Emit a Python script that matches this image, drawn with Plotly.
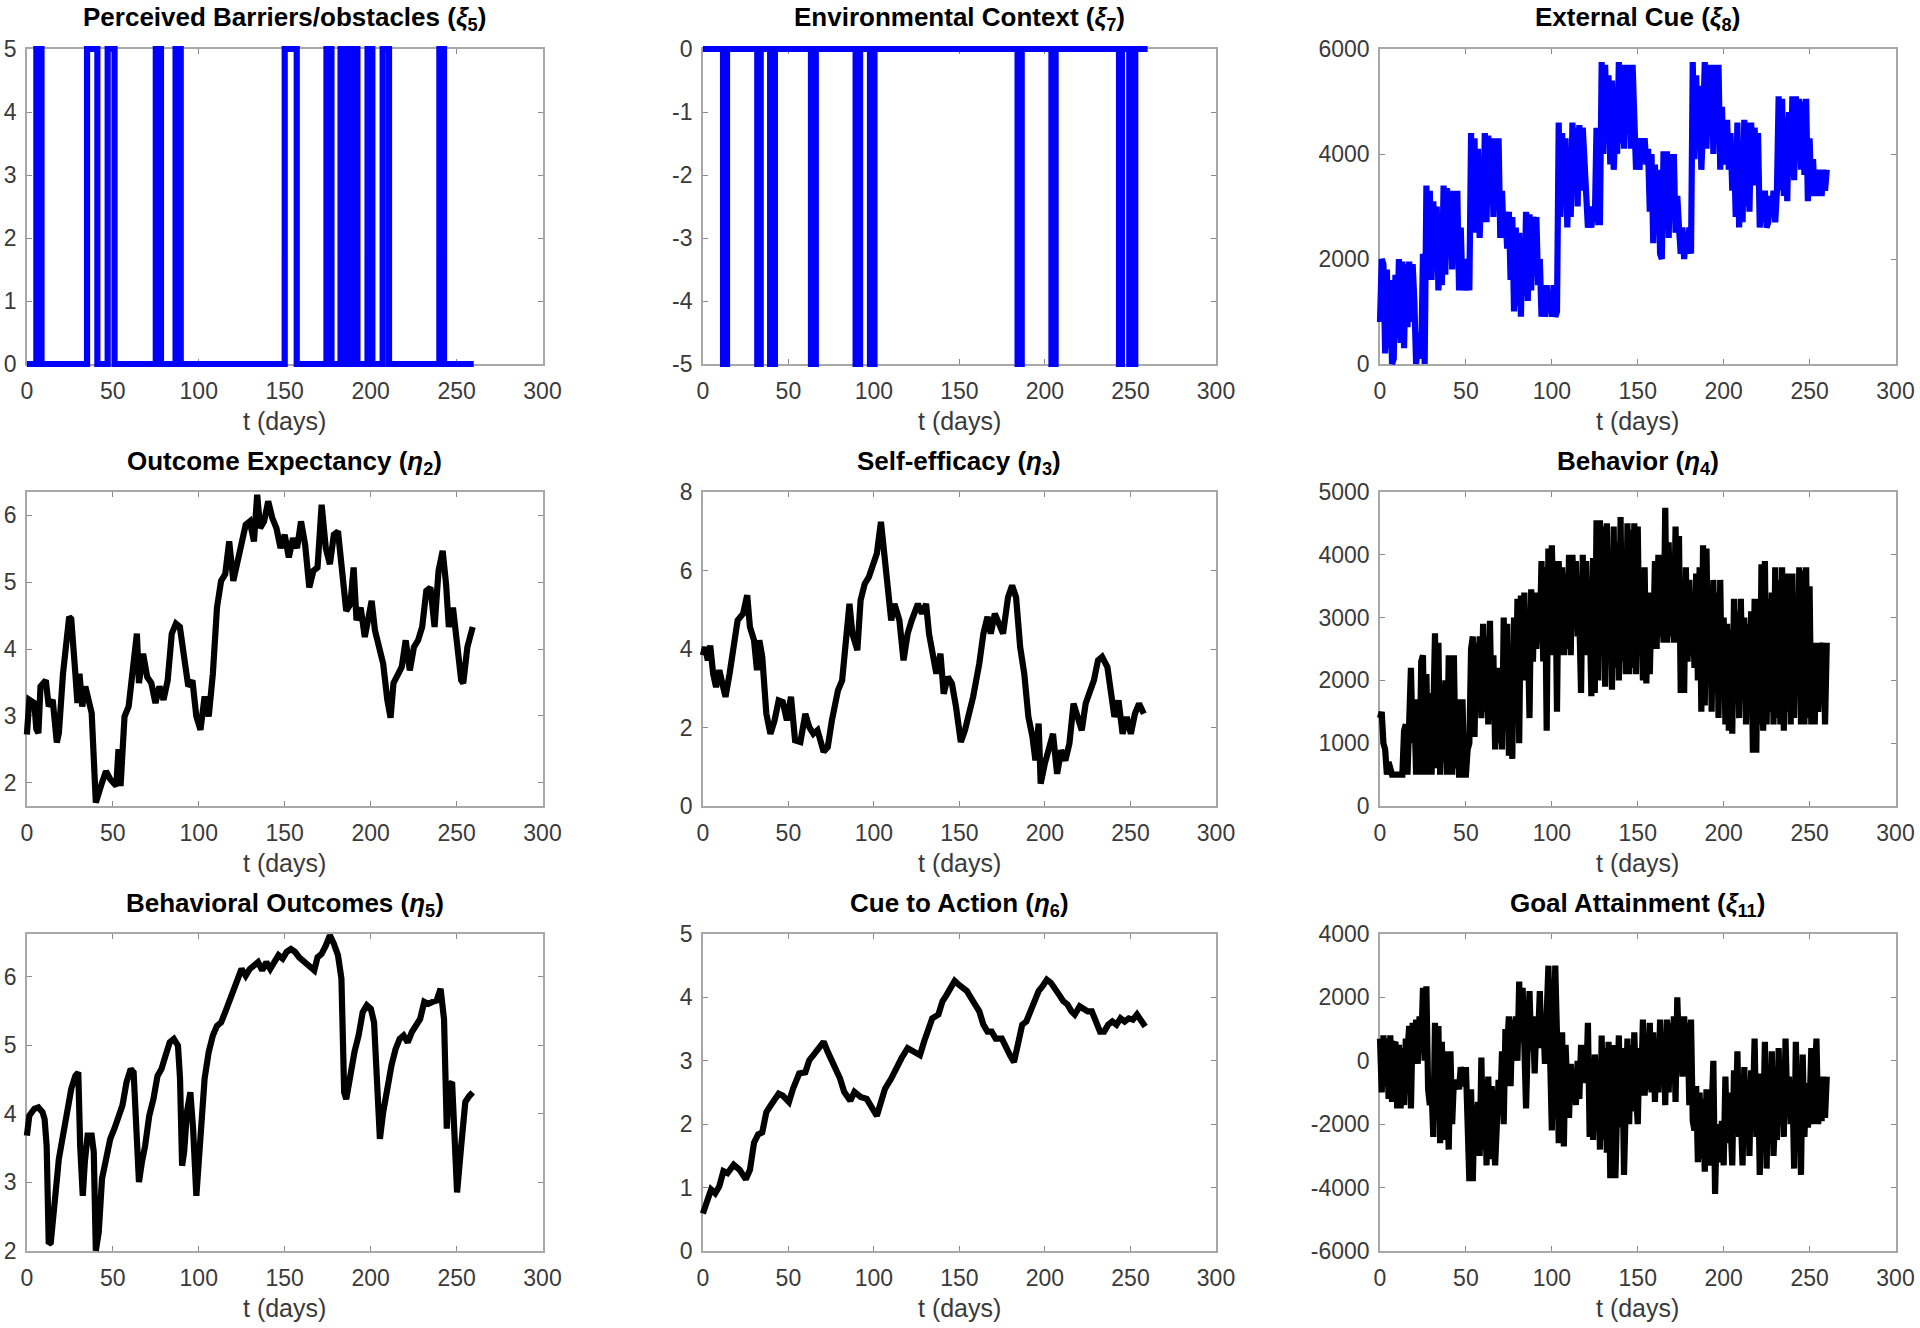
import plotly.graph_objects as go

# ---------------- data ----------------
days = list(range(261))

# Perceived Barriers/obstacles (xi5): intervals (start day, end day) where value = 5, else 0
xi5_level = 5
xi5_starts = [5.5, 35.0, 47.0, 75.0, 86.5, 150.0, 174.3, 182.5, 184.8, 187.2, 189.8, 198.2, 207.0, 240.0]
xi5_ends = [8.5, 41.0, 51.0, 78.0, 89.5, 157.0, 177.2, 184.0, 186.5, 189.0, 192.3, 201.0, 210.7, 242.7]

# Environmental Context (xi7): intervals where value = -5, else 0
xi7_level = -5
xi7_starts = [11.8, 31.8, 39.3, 63.2, 89.3, 97.7, 184.0, 203.8, 243.3, 249.3, 251.5]
xi7_ends = [14.1, 33.8, 42.1, 66.0, 91.9, 100.3, 186.4, 206.2, 245.0, 250.5, 252.8]

# External Cue (xi8), daily
xi8 = [800, 2000, 1900, 200, 1800, 300, 1600, 0, 100, 1700,
       500, 2000, 400, 1950, 300, 1900, 700, 1950, 800, 1900,
       1200, 0, 300, 600, 100, 2100, 0, 3400, 1600, 3300,
       1600, 3100, 2000, 3000, 1400, 2300, 1500, 3400, 1700, 3350,
       2100, 3300, 1800, 3300, 2100, 3300, 1400, 2600, 1400, 1900,
       1400, 2000, 1400, 4400, 2600, 4300, 2500, 4100, 2400, 3500,
       2700, 4400, 2700, 4350, 3200, 4300, 2800, 4300, 3400, 4300,
       2400, 3300, 2400, 2900, 2200, 2900, 1600, 2800, 1000, 2600,
       1100, 2500, 900, 2400, 1300, 2900, 1200, 2850, 1400, 2800,
       2200, 2800, 1500, 2000, 900, 1400, 900, 1500, 1000, 1300,
       900, 1500, 900, 1000, 4600, 2800, 4400, 3000, 4300, 2600,
       3900, 2800, 4600, 3500, 4500, 3000, 4550, 3300, 4500, 3600,
       3100, 2600, 2800, 2600, 3000, 2700, 4500, 2700, 2700, 5750,
       4000, 5700, 4600, 5500, 3800, 5400, 3700, 4500, 4000, 5750,
       4200, 5700, 4100, 5700, 4400, 5700, 4100, 5700, 4700, 3700,
       4300, 3700, 4300, 3900, 4300, 3800, 4100, 2900, 4000, 2300,
       3800, 2600, 3700, 2100, 2000, 4050, 2600, 4050, 2400, 4000,
       2800, 4000, 2500, 3200, 2600, 2100, 2600, 2000, 2500, 2100,
       2600, 2100, 5750, 3900, 5500, 4200, 5300, 3700, 4500, 5750,
       4100, 5700, 4500, 5700, 4000, 5700, 4400, 5700, 3700, 4900,
       3800, 4300, 4650, 3700, 4400, 3300, 4200, 2800, 4600, 2600,
       3800, 2700, 4650, 3000, 4600, 2900, 4600, 3400, 4500, 3800,
       4400, 2600, 3300, 2700, 3300, 2600, 2700, 3200, 2800, 3300,
       2700, 3300, 5100, 3300, 5050, 3200, 4700, 3100, 4800, 3600,
       5100, 3500, 5100, 4000, 5050, 3700, 5000, 3600, 5050, 3100,
       4300, 3200, 3900, 3200, 3700, 3200, 3700, 3200, 3700, 3300, 3700]

# Outcome Expectancy (eta2)
eta2_t = [0, 1.4, 4.3, 5.5, 6.7, 7.9, 11, 12.7, 15, 17.4, 18.6, 21, 24.6, 25.8, 28.2, 29.4, 30.6,
          32.2, 34, 35.8, 37.7, 40.1, 41.3, 43.7, 46, 48.5, 52, 53.3, 54.5, 56.8, 59.2, 61.6, 64,
          65.2, 67.6, 70, 72.4, 74.8, 77.1, 79.5, 81.9, 84.3, 86.7, 89, 91.5, 93.9, 96.3, 98.6,
          101, 103.4, 105.8, 108.2, 110.6, 113, 115.4, 117.7, 120.1, 122.5, 124.9, 127.3, 129.7,
          132.1, 134, 135.7, 138, 140.4, 142.8, 145.2, 147.6, 150, 152.4, 154.8, 157.2, 159.5,
          161.9, 164.3, 166.7, 169.1, 171.5, 173.9, 176.3, 178.6, 181, 183.4, 185.8, 188.2, 190.1,
          191.8, 194.2, 196.6, 198.9, 200.6, 202.5, 204.9, 207.3, 209.7, 211.6, 213.3, 215.7,
          218.1, 220.4, 222.8, 225.2, 227.6, 230, 232.4, 234.8, 237.2, 239.5, 241.9, 243.9,
          245.5, 247.9, 250.3, 252.7, 253.9, 256.3, 259.4]
eta2 = [2.72, 3.24, 3.19, 2.8, 2.74, 3.44, 3.53, 3.14, 3.24, 2.6, 2.74, 3.63, 4.48, 4.45, 3.63, 3.19, 3.63,
        3.14, 3.44, 3.24, 3.04, 1.70, 1.78, 2.0, 2.17, 2.05, 1.95, 2.50, 1.95, 2.99, 3.14, 3.68, 4.23,
        3.49, 3.93, 3.58, 3.49, 3.19, 3.44, 3.24, 3.53, 4.23, 4.38, 4.33, 3.88, 3.44, 3.53, 2.99,
        2.79, 3.29, 2.99, 3.63, 4.62, 5.02, 5.12, 5.61, 5.02, 5.32, 5.61, 5.86, 5.91,
        5.61, 6.31, 5.81, 5.91, 6.21, 5.96, 5.81, 5.51, 5.71, 5.37, 5.66, 5.51, 5.91,
        5.56, 4.92, 5.17, 5.22, 6.16, 5.51, 5.27, 5.71, 5.76, 5.12, 4.57, 4.67, 5.22,
        4.43, 4.62, 4.18, 4.52, 4.72, 4.28, 4.03, 3.78, 3.24, 2.97, 3.49, 3.63,
        3.73, 4.13, 3.68, 4.03, 4.13, 4.33, 4.87, 4.92, 4.33, 5.17, 5.47, 4.97,
        4.33, 4.62, 4.13, 3.53, 3.49, 4.03, 4.33]

# Self-efficacy (eta3)
eta3_t = [0, 1.2, 2.9, 4.3, 6, 7.7, 9.6, 12, 13.2, 15.6, 18, 20.3, 23.5, 25.9, 27.5, 29.9, 31.6, 33,
          34.7, 37.1, 39.5, 41.9, 44.3, 46.7, 49.1, 51.5, 53.9, 57, 59.9, 62.2, 64.6, 67, 70.6, 73,
          75.4, 79, 81.4, 83.8, 85.7, 87.4, 90.3, 92.2, 94.6, 97, 99.4, 101.7, 104.1, 106.5, 108.9,
          110.1, 112, 114.9, 117.3, 119.7, 122.1, 125.7, 128.1, 130.5, 132.2, 134.1, 136.5, 138.9,
          140.8, 143.2, 145.6, 148, 150.8, 153.2, 155.6, 158, 161.6, 164, 166.4, 168.3, 170.7,
          173.6, 175.5, 178.4, 180.8, 183.1, 185.5, 187.9, 190.3, 192.7, 194.4, 196.3, 197.5,
          199.9, 202.3, 204.7, 207.1, 209.5, 211.9, 214.3, 216.7, 219.1, 221.5, 223.8, 226.2,
          228.6, 231, 233.4, 236.5, 238.9, 240.6, 243, 245.4, 247.8, 250.2, 252.6, 255, 257.8]
eta3 = [3.84, 4.05, 3.71, 4.09, 3.37, 3.03, 3.46, 2.86, 2.78, 3.37, 4.22, 4.73, 4.90, 5.37, 4.56, 4.22, 3.46, 4.22,
        3.80, 2.35, 1.84, 2.18, 2.69, 2.65, 2.18, 2.78, 1.67, 1.63, 2.35, 2.01, 1.84, 1.93, 1.38, 1.50,
        2.18, 2.95, 3.20, 4.48, 5.15, 4.39, 3.97, 5.24, 5.66, 5.83, 6.17, 6.43, 7.24, 6.34, 5.32,
        4.73, 5.15, 4.73, 3.71, 4.39, 4.73, 5.15, 4.90, 5.15, 4.39, 3.88, 3.37, 3.88,
        2.86, 3.29, 3.12, 2.52, 1.63, 1.93, 2.35, 2.78, 3.63, 4.39, 4.82, 4.39, 4.90,
        4.56, 4.39, 5.32, 5.62, 5.32, 4.05, 3.37, 2.27, 1.76, 1.16, 2.10, 0.57,
        1.08, 1.50, 1.84, 0.82, 1.42, 1.16, 1.59, 2.61, 2.27, 1.93, 2.61, 2.86,
        3.20, 3.71, 3.80, 3.54, 2.86, 2.27, 2.69, 1.84, 2.27, 1.84, 2.35, 2.61, 2.35]

# Behavior (eta4), daily
eta4 = [1400, 1500, 1000, 900, 500, 700, 600, 500, 500, 500,
        500, 500, 500, 500, 1200, 1300, 500, 1800, 2200, 1000,
        1600, 500, 1700, 500, 2300, 2400, 500, 2100, 500, 1800,
        500, 1400, 2750, 600, 2600, 500, 1700, 700, 2000, 500,
        2400, 1700, 500, 2400, 600, 1700, 500, 500, 1700, 500,
        500, 900, 1000, 2500, 2700, 1100, 2600, 1700, 2700, 1400,
        2900, 1500, 2700, 1300, 2950, 1400, 2400, 900, 2200, 1000,
        2200, 900, 3000, 1200, 2900, 800, 2300, 750, 3000, 1600,
        3300, 1000, 3350, 2000, 3400, 2200, 2800, 1400, 3450, 2300,
        3400, 2500, 3200, 2700, 3900, 2300, 3800, 1200, 4100, 2400,
        4150, 3000, 3900, 1500, 3900, 2400, 3800, 2400, 3700, 2500,
        4000, 2400, 4000, 3200, 3900, 2700, 3000, 1800, 4000, 2400,
        3900, 2600, 3100, 1750, 3950, 1800, 4550, 2000, 4550, 2700,
        4450, 1900, 4500, 2600, 3800, 1850, 4450, 2200, 4200, 2000,
        4600, 2300, 4000, 2100, 4500, 2100, 4400, 2200, 4500, 2100,
        4450, 2400, 3700, 2000, 3800, 1950, 3400, 2100, 3200, 2600,
        3900, 2500, 4000, 2700, 3300, 2600, 4750, 2600, 4200, 2700,
        3600, 2600, 4450, 2800, 4300, 1800, 3500, 1800, 3800, 2300,
        3600, 2400, 3100, 2200, 3700, 2000, 3800, 1500, 4150, 1600,
        4100, 2200, 3300, 1500, 3600, 1800, 3400, 1400, 3600, 1800,
        3000, 1300, 2900, 1200, 2800, 1150, 3300, 1800, 3100, 1400,
        3300, 1700, 3000, 1300, 2900, 1500, 3100, 850, 3300, 850,
        3300, 1300, 3850, 1200, 3900, 1300, 3300, 1500, 3400, 1300,
        3800, 1400, 3600, 1300, 3800, 1200, 3700, 1500, 3700, 1300,
        3700, 1400, 3300, 1800, 3800, 1300, 3750, 1300, 3800, 1400,
        3500, 1300, 2600, 1300, 2600, 1500, 2600, 1800, 2600, 1300, 2600]

# Behavioral Outcomes (eta5)
eta5_t = [0, 1.4, 4.3, 6.7, 9.1, 10.3, 11.5, 12.7, 13.9, 16.2, 18.6, 21, 23.4, 25.8, 28.2, 29.9, 31,
          32.5, 33.7, 35.3, 37.7, 38.9, 40.1, 41.8, 43.7, 46.1, 48.5, 50.9, 53.3, 55.6, 58, 60.4,
          62.1, 63.5, 65.2, 66.9, 68.8, 71.2, 73.6, 76, 78.3, 80.7, 83.1, 85.5, 87.9, 89.1, 90.3,
          91.5, 93.1, 95.1, 96.7, 98.6, 101, 103.4, 105.8, 108.2, 110.6, 113, 115.4, 117.7, 120.1,
          122.5, 124.9, 127.3, 129.7, 132.1, 134.5, 136.9, 139.3, 141.6, 144, 146.4, 148.8, 151.2,
          153.6, 156, 158.4, 160.7, 163.1, 165.5, 167.2, 169.1, 171.5, 173.9, 176.3, 178.6, 181,
          183, 184.6, 185.8, 188.2, 190.6, 193, 195.4, 197.8, 200.1, 202, 203.7, 205.4, 207.3,
          209.7, 212.1, 214.5, 216.9, 219.2, 221.6, 224, 226.4, 228.8, 231.2, 233.6, 236, 238.4,
          240.7, 242.7, 244.3, 245.5, 247.4, 248.6, 250.3, 252.7, 255.1, 257.5, 259.4]
eta5 = [3.68, 3.97, 4.07, 4.09, 4.02, 3.92, 3.53, 2.10, 2.12, 2.75, 3.34, 3.68, 4.02, 4.36, 4.55, 4.60, 3.53,
        2.80, 3.29, 3.68, 3.68, 3.44, 2.0, 2.27, 3.05, 3.39, 3.63, 3.78, 3.97, 4.12, 4.46, 4.65,
        4.60, 4.02, 3.00, 3.29, 3.53, 3.97, 4.21, 4.55, 4.65, 4.85, 5.04, 5.09, 4.99, 4.51, 3.24,
        3.44, 4.02, 4.31, 3.78, 2.80, 3.53, 4.51, 4.90, 5.14, 5.28, 5.33, 5.48, 5.63, 5.77,
        5.97, 6.11, 6.01, 6.11, 6.16, 6.21, 6.09, 6.21, 6.11, 6.21, 6.31, 6.26, 6.36,
        6.40, 6.36, 6.28, 6.23, 6.18, 6.11, 6.09, 6.28, 6.33, 6.45, 6.60, 6.48, 6.31,
        5.97, 4.31, 4.21, 4.60, 4.90, 5.14, 5.48, 5.58, 5.53, 5.33, 4.26, 3.63, 4.02,
        4.41, 4.70, 4.94, 5.09, 5.14, 5.04, 5.19, 5.28, 5.38, 5.63, 5.60, 5.63, 5.65,
        5.82, 5.38, 3.78, 4.41, 4.46, 3.78, 2.85, 3.53, 4.17, 4.26, 4.31]

# Cue to Action (eta6)
eta6_t = [0, 2.4, 4.8, 7.2, 9.6, 12, 14.4, 18, 21.5, 25.1, 27.5, 29.9, 32.3, 34.7, 37.1, 39.5, 41.9,
          44.3, 46.7, 50.3, 52.7, 56.3, 59.9, 62.2, 64.6, 68.2, 70.6, 73, 76.6, 80.2, 82.6, 86.2,
          88.6, 92.2, 95.8, 98.2, 101.7, 104.1, 106.5, 110.1, 113.7, 116.1, 119.7, 123.3, 126.9,
          129.3, 131.7, 134.1, 137.7, 140.1, 142.5, 144.8, 147.2, 149.6, 152, 154.4, 156.8, 159.2,
          161.6, 164, 166.4, 168.8, 171.2, 174.8, 177.2, 179.5, 181.9, 184.3, 186.7, 189.1, 191.5,
          193.9, 196.3, 198.7, 201.1, 203.5, 205.9, 208.3, 210.7, 213.1, 215.5, 217.4, 220.3,
          222.7, 225, 227.4, 229.8, 232.2, 234.6, 237, 239.4, 241.8, 244.2, 246.6, 249, 251.4,
          253.8, 256.2, 258.6]
eta6 = [0.59, 0.81, 0.97, 0.91, 1.02, 1.26, 1.23, 1.36, 1.28, 1.13, 1.28, 1.71, 1.84, 1.87, 2.19, 2.29, 2.40,
        2.48, 2.45, 2.35, 2.56, 2.80, 2.82, 3.01, 3.09, 3.20, 3.30, 3.14, 2.93, 2.72, 2.51, 2.37,
        2.51, 2.43, 2.40, 2.29, 2.13, 2.35, 2.56, 2.72, 2.93, 3.04, 3.20, 3.14, 3.09,
        3.30, 3.51, 3.67, 3.73, 3.94, 4.04, 4.15, 4.26, 4.20, 4.15, 4.10, 3.99, 3.89,
        3.78, 3.57, 3.46, 3.46, 3.35, 3.35, 3.20, 3.09, 2.98, 3.30, 3.57, 3.62, 3.78,
        3.99, 4.10, 4.18, 4.28, 4.23, 4.15, 4.04, 3.94, 3.89, 3.78, 3.73, 3.86,
        3.81, 3.78, 3.78, 3.62, 3.46, 3.46, 3.57, 3.62, 3.57, 3.67, 3.62, 3.67, 3.65,
        3.73, 3.62, 3.54]

# Goal Attainment (xi11), daily
xi11 = [700, -1000, 800, -800, 700, -1200, 800, -1300, 500, 600,
        -1500, 500, -1500, 400, -1400, 700, 300, 1100, -1500, 1200,
        0, 1300, -100, 1400, 400, 2300, 0, 2350, -900, -1400,
        -900, -2400, 1200, -1300, 1100, -2600, 600, -2500, 300, -1500,
        -2800, 300, -2000, -600, -900, -600, -900, -200, -700, -800,
        -200, -2000, -3800, -900, -3800, -1400, -2000, -1300, -3000, 100,
        -2800, -600, -3300, -500, -3100, -800, -2000, -3300, -2000, -600,
        -1500, 300, -2000, 1000, 400, 1400, -800, 1300, 500, 1400,
        0, 2500, 600, 2300, 500, -1500, 600, 2200, 300, 1400,
        -400, 1200, 700, 2200, 400, 1300, -100, 1800, 3000, 100,
        -2200, 900, 3000, 800, -2600, -300, 900, -2700, 500, -900,
        -1800, -100, -900, -300, -1400, 0, -1200, 500, -400, 400,
        -700, 1200, -2400, -200, -2500, 200, -1200, -400, -2800, 800,
        -2500, 400, -2900, 600, -3700, -1000, 500, -3700, -1700, 800,
        -2100, 400, -3600, -500, 700, -2000, 500, -1600, 900, -1000,
        -2000, 400, -800, 1300, -1100, 0, -900, 1200, -1000, 900,
        -1300, 400, -1000, 1300, -600, 900, -1400, 1300, -1000, 1200,
        -400, 1400, -1300, 2000, 300, 1300, -500, 1400, 300, 1200,
        -1400, 1300, -1900, -2200, -800, -3200, -1000, -3100, -1200, -3500,
        -900, -2600, -3300, -1600, 0, -4200, -2000, -3200, -2500, -1900,
        -3300, -500, -2600, -1000, -2000, -3300, -300, -2200, 300, -2400,
        -1800, -3300, -200, -2000, -1000, -3000, -300, -1500, 700, -2400,
        -400, -3600, -600, -2000, 600, -3400, -200, -2000, 300, -3000,
        -1600, -2500, 400, -2000, -300, -2400, 700, -1400, -500, -2000,
        -700, -3400, 600, -2000, -500, -3600, 200, -2400, -700, -2100,
        -1500, 400, -2000, -800, 700, -2000, -600, -1900, -500, -1800, -500]

x_ticks = [0, 50, 100, 150, 200, 250, 300]
x_label = "t (days)"


def pulse_line(starts, ends, level, t_end):
    t, y = [0], [0]
    for s, e in zip(starts, ends):
        t += [s, s, e, e]
        y += [0, level, level, 0]
    t.append(t_end)
    y.append(0)
    return t, y


xi5_t, xi5_y = pulse_line(xi5_starts, xi5_ends, xi5_level, days[-1])
xi7_t, xi7_y = pulse_line(xi7_starts, xi7_ends, xi7_level, days[-1])

BLUE = "#0000ff"
BLACK = "#000000"

panels = [
    dict(title="Perceived Barriers/obstacles (<i>ξ</i><sub>5</sub>)", x=xi5_t, y=xi5_y, color=BLUE,
         yrange=[0, 5], yticks=[0, 1, 2, 3, 4, 5]),
    dict(title="Environmental Context (<i>ξ</i><sub>7</sub>)", x=xi7_t, y=xi7_y, color=BLUE,
         yrange=[-5, 0], yticks=[-5, -4, -3, -2, -1, 0]),
    dict(title="External Cue (<i>ξ</i><sub>8</sub>)", x=days, y=xi8, color=BLUE,
         yrange=[0, 6000], yticks=[0, 2000, 4000, 6000]),
    dict(title="Outcome Expectancy (<i>η</i><sub>2</sub>)", x=eta2_t, y=eta2, color=BLACK,
         yrange=[1.65, 6.35], yticks=[2, 3, 4, 5, 6]),
    dict(title="Self-efficacy (<i>η</i><sub>3</sub>)", x=eta3_t, y=eta3, color=BLACK,
         yrange=[0, 8], yticks=[0, 2, 4, 6, 8]),
    dict(title="Behavior (<i>η</i><sub>4</sub>)", x=days, y=eta4, color=BLACK,
         yrange=[0, 5000], yticks=[0, 1000, 2000, 3000, 4000, 5000]),
    dict(title="Behavioral Outcomes (<i>η</i><sub>5</sub>)", x=eta5_t, y=eta5, color=BLACK,
         yrange=[1.995, 6.62], yticks=[2, 3, 4, 5, 6]),
    dict(title="Cue to Action (<i>η</i><sub>6</sub>)", x=eta6_t, y=eta6, color=BLACK,
         yrange=[0, 5], yticks=[0, 1, 2, 3, 4, 5]),
    dict(title="Goal Attainment (<i>ξ</i><sub>11</sub>)", x=days, y=xi11, color=BLACK,
         yrange=[-6000, 4000], yticks=[-6000, -4000, -2000, 0, 2000, 4000]),
]

# ---------------- layout geometry (page pixels) ----------------
W, H = 1920, 1328
COLS = [(26.9, 542.5), (702.9, 1216.0), (1380.0, 1895.5)]
ROWS = [(49.0, 364.0), (492.0, 806.0), (934.0, 1251.0)]
PAD = 4.0
FONT = "Liberation Sans, Arial, Helvetica, sans-serif"
TICK_COLOR = "#3a3a3a"
BOX_COLOR = "#a8a8a8"
LINE_W = 6.2

fig = go.Figure()
layout = {}
annotations = []


def fx(px):
    return px / W


def fy(px):
    return 1 - px / H


for i, p in enumerate(panels):
    r, c = divmod(i, 3)
    x0, x1 = COLS[c]
    ytop, ybot = ROWS[r]
    vis = i + 1
    ovl = i + 10
    vx = "xaxis" if vis == 1 else f"xaxis{vis}"
    vy = "yaxis" if vis == 1 else f"yaxis{vis}"
    vxr = "x" if vis == 1 else f"x{vis}"
    vyr = "y" if vis == 1 else f"y{vis}"
    ox, oy = f"xaxis{ovl}", f"yaxis{ovl}"
    oxr, oyr = f"x{ovl}", f"y{ovl}"

    xr = [0, 300]
    yr = p["yrange"]
    wpx = x1 - x0
    hpx = ybot - ytop
    dx = PAD * (xr[1] - xr[0]) / wpx
    dy = PAD * (yr[1] - yr[0]) / hpx

    axis_common = dict(
        showline=True, linecolor=BOX_COLOR, linewidth=1.5, mirror="allticks",
        ticks="inside", ticklen=5, tickwidth=1.2, tickcolor="#8a8a8a",
        showgrid=False, zeroline=False, fixedrange=True,
        tickfont=dict(family=FONT, size=23, color=TICK_COLOR),
    )
    layout[vx] = dict(domain=[fx(x0), fx(x1)], anchor=vyr, range=xr,
                      tickvals=x_ticks, ticktext=[str(v) for v in x_ticks],
                      ticklabelstandoff=6, **axis_common)
    layout[vy] = dict(domain=[fy(ybot), fy(ytop)], anchor=vxr, range=yr,
                      tickvals=p["yticks"], ticktext=[str(v) for v in p["yticks"]],
                      ticklabelstandoff=4, **axis_common)
    layout[ox] = dict(domain=[fx(x0 - PAD), fx(x1 + PAD)], anchor=oyr,
                      range=[xr[0] - dx, xr[1] + dx], visible=False, fixedrange=True)
    layout[oy] = dict(domain=[fy(ybot + PAD), fy(ytop - PAD)], anchor=oxr,
                      range=[yr[0] - dy, yr[1] + dy], visible=False, fixedrange=True)

    # empty trace to materialise the visible frame
    fig.add_trace(go.Scatter(x=[], y=[], xaxis=vxr, yaxis=vyr, showlegend=False))
    fig.add_trace(go.Scatter(x=p["x"], y=p["y"], mode="lines", xaxis=oxr, yaxis=oyr,
                             line=dict(color=p["color"], width=LINE_W), showlegend=False,
                             hoverinfo="skip"))

    xc = fx((x0 + x1) / 2)
    annotations.append(dict(text=f"<b>{p['title']}</b>", x=xc, y=fy(ytop - 30),
                            xref="paper", yref="paper", xanchor="center", yanchor="middle",
                            showarrow=False, font=dict(family=FONT, size=26, color="#000000")))
    annotations.append(dict(text=x_label, x=xc, y=fy(ybot + 57),
                            xref="paper", yref="paper", xanchor="center", yanchor="middle",
                            showarrow=False, font=dict(family=FONT, size=25, color=TICK_COLOR)))

fig.update_layout(
    width=W, height=H,
    margin=dict(l=0, r=0, t=0, b=0, autoexpand=False),
    paper_bgcolor="white", plot_bgcolor="rgba(0,0,0,0)",
    showlegend=False,
    annotations=annotations,
    **layout,
)

# remove the default page margin so the figure fills the window exactly
fig.write_html("out.html",
               config={"displayModeBar": False},
               post_script="document.body.style.margin='0';"
                           "document.body.style.overflow='hidden';")
